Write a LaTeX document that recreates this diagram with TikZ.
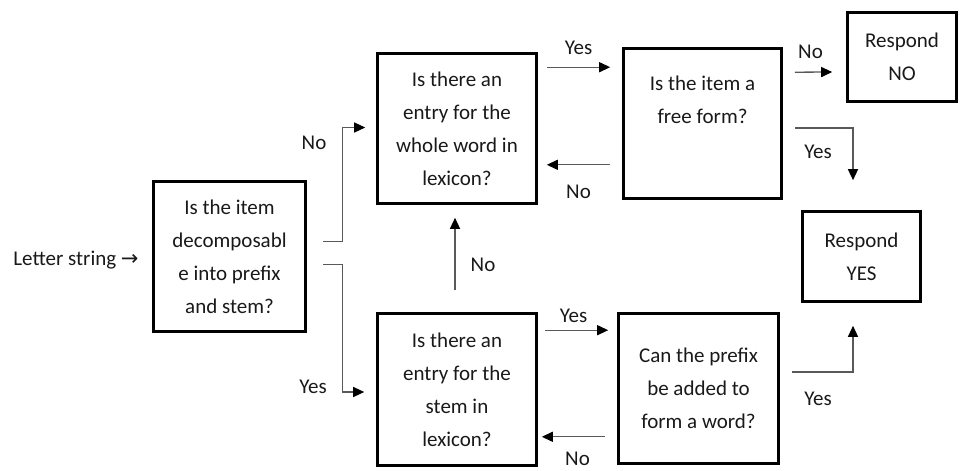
\documentclass[tikz,border=0pt]{standalone}
\usepackage{fontspec}
\setmainfont{Carlito}
\newfontfamily\symfont{DejaVu Sans}
\usetikzlibrary{arrows.meta,calc}

\begin{document}
\begin{tikzpicture}[x=1pt, y=-1pt,
    every node/.style={font=\fontsize{21}{33}\selectfont, text=black!90},
    box/.style={draw=black, line width=2.6pt, align=center, inner sep=0pt},
    link/.style={draw=black!65, line width=1.3pt, -{Triangle[width=10pt,length=11pt,color=black]}},
    lbl/.style={inner sep=0pt, midway}]
    \useasboundingbox (0,0) rectangle (961,471);

    % boxes
    \node[box, minimum width=152, minimum height=150] (decomp) at (229.5,256.5) {Is the item\\ decomposabl\\ e into prefix\\ and stem?};
    \node[box, minimum width=159, minimum height=150] (whole) at (457,128.5) {Is there an\\ entry for the\\ whole word in\\ lexicon?};
    \node[box, minimum width=158, minimum height=150] (free) at (702.5,123.5) {Is the item a\\ free form?\\[14pt]};
    \node[box, minimum width=109, minimum height=89] (respno) at (902,57) {Respond\\ NO};
    \node[box, minimum width=118, minimum height=90] (respyes) at (861.5,256.5) {Respond\\ YES};
    \node[box, minimum width=159, minimum height=152] (stem) at (457,389.5) {Is there an\\ entry for the\\ stem in\\ lexicon?};
    \node[box, minimum width=160, minimum height=150] (prefix) at (698.5,388.5) {Can the prefix\\ be added to\\ form a word?};

    \node (input) at (76,260) {Letter string {\symfont →}};

    % connectors
    \draw[link] ($(decomp.north east)+(16,61)$) -- ++(20,0) |- ($(whole.west)+(-11,-1)$);
    \draw[link] ($(decomp.south east)+(16,-68)$) -- ++(20,0) |- ($(stem.west)+(-12,2.5)$);
    \draw[link] ($(stem.north)+(-2,-22)$) -- ($(whole.south)+(-2,13)$);
    \draw[link] ($(whole.north east)+(9,15)$) -- ($(free.north west)+(-12,20)$)
        node[lbl, yshift=19pt] (yes1) {Yes};
    \draw[link] ($(free.south west)+(-12,-35)$) -- ($(whole.south east)+(9,-40)$)
        node[lbl, yshift=-27pt] (no1) {No};
    \draw[link] ($(free.north east)+(12,25)$) -- ($(respno.west)+(-14,15)$)
        node[lbl, yshift=20pt, xshift=-3pt] (no2) {No};
    \draw[link] ($(free.east)+(12,4.5)$) -| ($(respyes.north)+(-8.5,-30)$);
    \draw[link] ($(prefix.east)+(12,-16.5)$) -| ($(respyes.south)+(-8.5,23)$);
    \draw[link] ($(stem.north east)+(7,18)$) -- ($(prefix.north west)+(-9,18)$)
        node[lbl, yshift=14pt, xshift=-3pt] (yes2) {Yes};
    \draw[link] ($(prefix.south west)+(-12,-28)$) -- ($(stem.south east)+(4,-30)$)
        node[lbl, yshift=-22pt, xshift=4pt] (no3) {No};

    % free labels
    \node (no4) at (314,143) {No};
    \node (yes3) at (313,387) {Yes};
    \node (no5) at (483,265) {No};
    \node (yes4) at (818,152) {Yes};
    \node (yes5) at (818,399) {Yes};
\end{tikzpicture}
\end{document}
